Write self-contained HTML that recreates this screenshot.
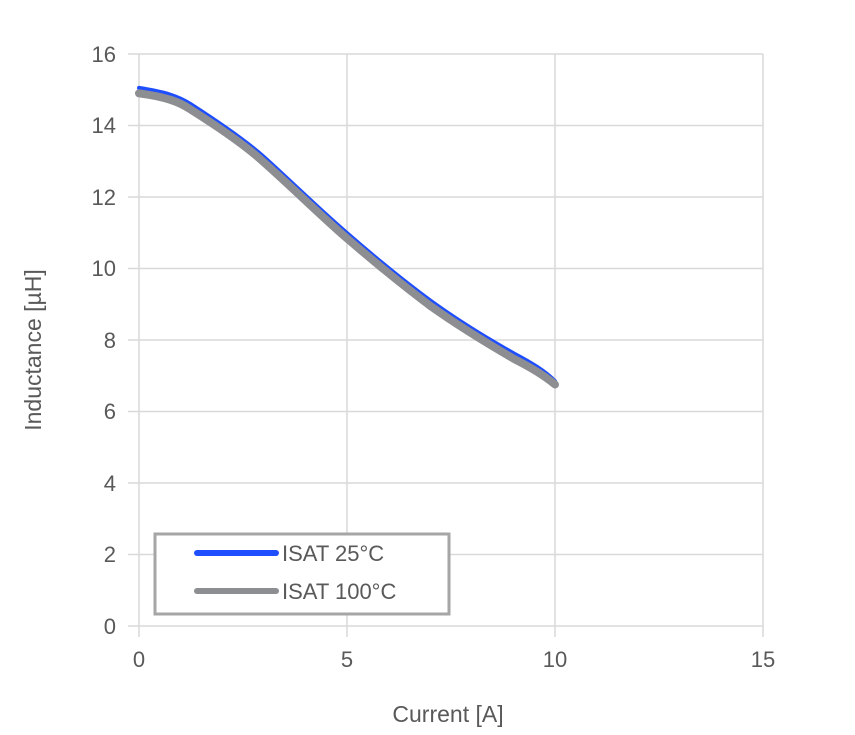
<!DOCTYPE html>
<html><head><style>body{margin:0;background:#fff}svg{display:block}text{font-family:"Liberation Sans",sans-serif;fill:#595959}</style></head><body>
<svg width="855" height="735" viewBox="0 0 855 735">
<g stroke="#d9d9d9" stroke-width="1.5">
<line x1="128" y1="54" x2="763" y2="54"/><line x1="128" y1="125.5" x2="763" y2="125.5"/><line x1="128" y1="197" x2="763" y2="197"/><line x1="128" y1="268.5" x2="763" y2="268.5"/><line x1="128" y1="340" x2="763" y2="340"/><line x1="128" y1="411.5" x2="763" y2="411.5"/><line x1="128" y1="483" x2="763" y2="483"/><line x1="128" y1="554.5" x2="763" y2="554.5"/><line x1="128" y1="626" x2="763" y2="626"/>
<line x1="139" y1="54" x2="139" y2="637"/><line x1="347" y1="54" x2="347" y2="637"/><line x1="555" y1="54" x2="555" y2="637"/><line x1="763" y1="54" x2="763" y2="637"/>
</g>
<g font-size="22" text-anchor="end">
<text x="116" y="62">16</text><text x="116" y="133">14</text><text x="116" y="205">12</text><text x="116" y="276">10</text><text x="116" y="348">8</text><text x="116" y="419">6</text><text x="116" y="491">4</text><text x="116" y="562">2</text><text x="116" y="634">0</text>
</g>
<g font-size="22" text-anchor="middle">
<text x="139" y="667">0</text><text x="347" y="667">5</text><text x="555" y="667">10</text><text x="763" y="667">15</text>
<text x="448" y="722" font-size="23">Current [A]</text>
<text transform="translate(41,350) rotate(-90)" font-size="23">Inductance [µH]</text>
</g>
<path d="M139,87.9 C165,92 178,96 191,104.3 C220,123 245,140 264,157 C295,185 320,210 347,233 C378,260 405,282 431,301 C460,322 490,340 514,353.5 C532,363 545,371 555,381.1" fill="none" stroke="#1f4eff" stroke-width="4" stroke-linecap="round"/>
<path d="M139,93.3 C165,97 178,101 191,109.7 C220,128 245,145 264,162.4 C295,190 320,215 347,238.4 C378,265 405,287 431,306.4 C460,327 490,345 514,358.9 C532,368 545,376 555,384.5" fill="none" stroke="#8c8e92" stroke-width="8" stroke-linecap="round"/>
<rect x="155" y="534" width="294" height="80" fill="#fff" stroke="#a6a6a6" stroke-width="3"/>
<line x1="197" y1="553" x2="276" y2="553" stroke="#1f4eff" stroke-width="6" stroke-linecap="round"/>
<line x1="197" y1="591" x2="276" y2="591" stroke="#8c8e92" stroke-width="6" stroke-linecap="round"/>
<g font-size="22"><text x="282" y="561">ISAT 25°C</text><text x="282" y="599">ISAT 100°C</text></g>
</svg>
</body></html>
